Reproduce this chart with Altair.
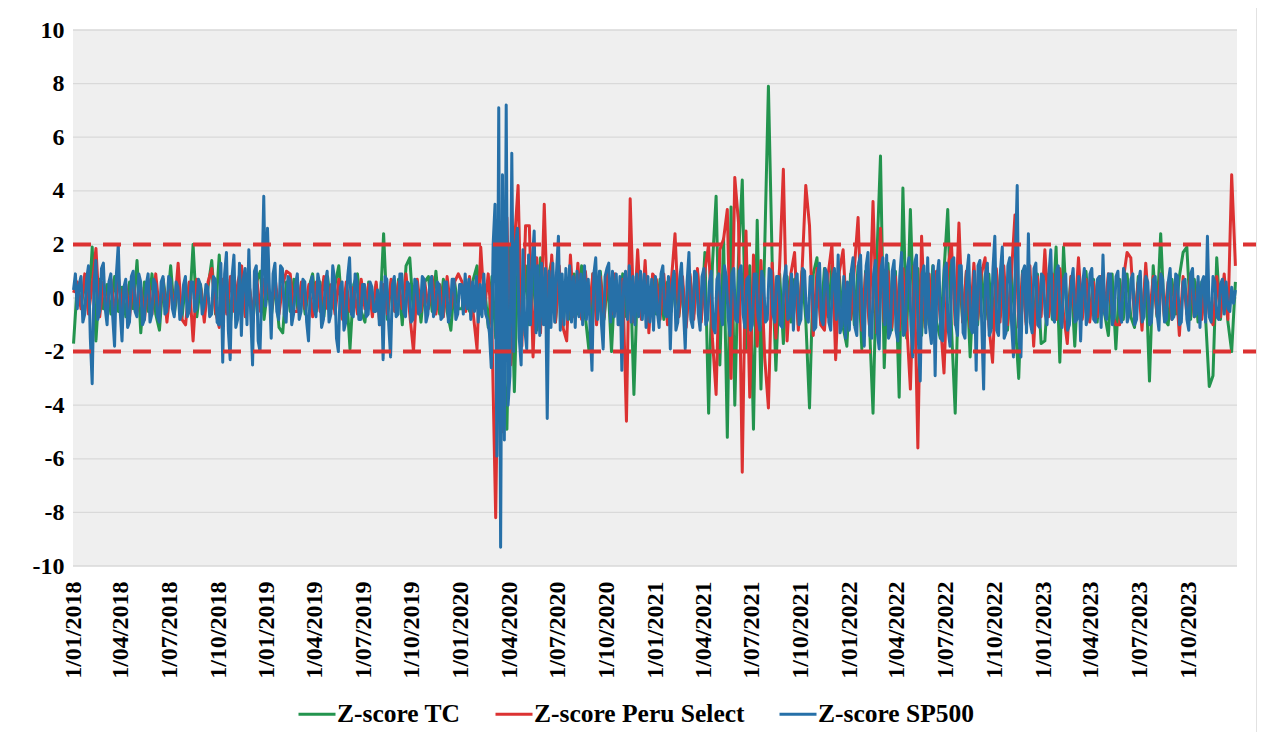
import altair as alt
import pandas as pd

# ---------------- data ----------------
series_names = ["Z-score TC", "Z-score Peru Select", "Z-score SP500"]
series_colors = ["#23944e", "#dc3232", "#2670a8"]

# TC and Peru Select: weekly readings (52 per year)
tc_2018 = [-1.7, 0.5, -0.3, 0.6, -0.5, 1.9, -1.6, 0.7, -0.4, 0.5, -0.6, 0.8, -0.5, 0.4, -0.7, 0.6, -0.4, 1.4, -1.3, 0.6, -0.5, 0.9, -0.6, -1.2, 0.7, -0.4, 1.2, -0.6, 0.5, -0.8, 0.6, -0.5, 2.0, -0.7, 0.5, -0.6, 0.4, 1.4, -0.6, 1.6, -0.8, 0.7, -0.9, 0.6, -0.5, 0.8, -0.7, 0.5, -0.9, 0.6, 1.0, -0.8]
tc_2019 = [0.4, -0.6, 0.5, -1.1, -1.3, 0.6, -0.5, 0.7, -0.4, 0.5, -0.6, 0.4, 0.9, -0.5, 0.6, -0.7, 0.8, -0.4, 0.5, 1.2, -0.6, 0.4, -1.9, 0.5, 0.9, -0.5, -0.9, 0.6, -0.4, 0.5, -0.6, 2.4, -0.8, 0.6, -0.5, 0.7, -1.0, 1.2, 1.5, -0.6, 0.5, -0.9, 0.6, 0.8, -0.5, 1.0, -0.6, 0.7, -0.5, -1.2, 0.6, -0.4]
tc_2020 = [-0.4, 0.6, -0.5, 0.7, 1.2, -0.6, 0.5, -1.1, 0.8, -1.5, 1.8, -2.2, -4.9, 2.0, -3.5, 1.6, -1.4, 1.2, -1.0, 0.9, -1.2, 1.5, -0.8, 0.7, 1.4, -0.9, 0.8, -1.1, 0.6, -0.8, 0.9, -0.6, 1.2, -0.7, -2.0, 0.9, -0.5, 1.0, -0.8, 0.7, -2.0, 0.8, -0.6, 0.9, -0.7, 1.1, -3.6, 0.8, -0.6, 1.0, -0.9, 0.7]
tc_2021 = [-0.6, 0.7, -0.8, 0.6, -0.5, 0.9, -0.7, 0.5, -0.9, 0.8, -0.6, 1.0, -0.8, 1.7, -4.3, 1.2, 3.8, -2.5, 2.2, -5.2, 3.4, -4.0, 1.5, 4.4, -2.0, 1.2, -4.9, 2.9, -3.4, 1.8, 7.9, 1.4, -2.7, 0.9, -1.7, 0.8, -0.9, 0.7, -1.0, 1.0, -0.8, -4.1, 0.9, 1.5, -0.9, 1.1, -0.7, 1.2, -1.0, 0.8, -1.1, -1.8]
tc_2022 = [0.9, -1.0, 1.2, -1.9, 1.0, -0.8, -4.3, 1.4, 5.3, -2.6, 1.3, -1.2, 1.0, -3.7, 4.1, -1.5, 3.3, -1.2, 1.1, -1.4, 0.9, -1.0, 1.2, -0.9, -1.5, 1.0, 3.3, -1.1, -4.3, 1.2, -0.9, 1.0, -2.2, 0.8, -1.0, 1.1, -0.8, 0.9, -1.1, 1.0, -0.7, 0.8, -1.2, 0.9, -0.8, -3.0, 1.0, -0.9, 0.8, -1.1, 0.9, -1.7]
tc_2023 = [-1.6, 0.9, -0.8, 1.9, -2.4, 1.9, -0.9, 0.8, -1.8, 0.9, -0.7, 1.0, -0.8, 0.7, -0.9, 0.8, -0.6, -1.4, 0.9, -1.9, 0.7, -0.8, 0.9, -0.7, -1.1, 0.8, -0.6, 0.9, -3.1, 1.2, -0.7, 2.4, -0.8, -1.0, 0.7, -0.6, 0.8, 1.7, 1.9, -0.8, 0.7, -0.9, 0.6, -0.7, -3.3, -2.9, 1.5, -0.8, 0.7, -0.9, -2.0, 0.6]

peru_2018 = [0.2, 0.6, -0.4, 0.9, -0.6, 0.5, 1.85, -0.7, 0.6, -0.5, 0.7, -0.6, 0.8, -0.4, 0.5, -0.7, 0.6, -0.5, 0.4, -0.8, 0.7, -0.6, 0.9, -0.5, 0.6, -0.9, 0.5, -0.4, 1.3, -0.8, -1.0, 0.6, -1.6, 0.7, 0.4, -0.9, 0.6, 1.1, -0.5, -1.1, 0.7, -0.6, 0.8, -0.5, 0.6, 1.2, -0.7, 0.5, -0.6, 0.8, -0.5, 0.7]
peru_2019 = [0.5, -0.4, 0.7, -0.6, 0.5, 1.0, 0.9, -0.5, -0.5, 0.6, -0.4, 0.5, -0.7, 0.6, -0.5, 0.8, -0.4, 0.5, -0.6, 0.7, -0.8, 0.6, -0.5, 0.4, -0.6, 0.7, -0.4, 0.5, -0.7, 0.6, -1.0, 0.5, -0.6, 0.7, -0.5, 0.6, -0.4, 0.9, -0.6, -2.0, 0.7, -0.5, 0.6, -0.4, 0.8, -0.6, 0.5, -0.7, 0.8, -0.4, 0.6, 0.9]
peru_2020 = [0.6, -0.5, 0.8, -0.6, -1.9, 1.9, -0.4, 0.9, -1.2, -8.2, 2.2, -5.0, 3.0, -2.5, 2.0, 4.2, -1.8, 2.7, 2.7, -2.2, 1.5, -1.3, 3.5, -1.0, 1.6, -0.9, 1.2, -1.1, -1.6, 1.6, -0.7, 1.3, -0.8, 1.0, -0.6, 0.9, -1.0, 0.8, -0.7, 1.1, -0.6, 0.9, -1.0, 0.7, -4.6, 3.7, -0.9, 1.8, -0.8, 1.4, -1.3, 0.9]
peru_2021 = [0.7, -0.8, 0.9, -1.0, 0.6, 2.4, -0.7, 0.8, -1.1, 0.9, -0.8, 1.1, -0.9, 1.0, 2.0, -1.5, -3.6, 1.8, 2.2, 3.3, -3.0, 4.5, 2.8, -6.5, 2.5, -3.7, 1.6, -1.8, 1.4, -2.2, -4.1, 1.3, -1.5, 1.2, 4.8, -1.6, 0.9, 1.7, -1.2, 1.0, 4.2, 2.7, -1.4, 1.1, -1.0, -1.2, 0.9, 2.0, -2.3, 1.0, 1.8, -0.9]
peru_2022 = [-0.8, 1.1, 3.0, -1.2, 0.9, -1.0, 3.6, -1.3, 2.6, -0.9, 1.0, -1.1, 0.8, -1.2, 1.1, -0.9, -3.4, 1.2, -5.6, 2.3, -1.1, 0.9, -1.3, 1.0, -0.8, -2.8, 1.1, 2.0, -1.0, 2.8, -0.9, 1.0, -1.1, 1.3, -0.8, 0.9, 1.5, -1.0, -2.4, 1.1, -0.9, 1.2, -1.0, 0.8, 3.1, -1.1, 0.9, -1.0, 1.2, -1.8, 0.8, -0.7]
peru_2023 = [1.8, -0.7, 0.9, -0.8, 1.1, -0.6, -1.7, 0.8, -0.7, 1.5, -0.8, 0.7, -0.9, 0.6, -0.7, 0.8, -0.5, 0.9, -0.6, -1.0, -1.0, 0.7, 1.7, 1.5, -0.8, 0.6, -1.2, 1.3, -0.7, 0.8, -0.6, 0.9, -0.7, 0.6, -0.8, 0.7, -1.4, 0.8, -0.6, 0.9, -0.7, 0.6, -0.8, 0.7, -0.6, -1.0, 0.8, -0.7, 0.9, -0.8, 4.6, 1.2]

# SP500: half-weekly readings (104 per year)
sp_2018 = [0.3, 0.9, -0.4, 0.5, 0.8, -0.9, -0.6, 0.7, 1.2, -1.5, -3.2, 0.6, 1.4, -0.8, -0.5, 1.1, 1.3, -0.4, -1.0, 0.6, 0.9, -0.7, -1.8, 0.9, 2.0, -0.5, -1.6, 0.4, 0.7, -1.1, -0.9, 0.8, 1.0, -0.5, -0.7, 0.9, 0.6, -1.0, -0.8, 0.5, 0.9, -0.9, -0.6, 0.7, 0.5, -0.7, -0.9, 0.6, 0.8, -0.6, -0.5, 0.8, 0.7, -0.4, -0.7, 0.6, 0.4, -0.8, -0.6, 0.5, 0.8, -0.7, -0.5, 0.6, 0.6, -0.5, -0.4, 0.7, 0.5, -0.6, -0.3, 0.5, 0.4, -0.7, -0.6, 0.8, 0.7, -0.9, -1.0, 1.3, -2.4, 0.9, 1.7, -1.2, -2.3, 0.8, 1.6, -1.1, -0.8, 1.3, -1.4, 0.7, 1.1, -1.0, 1.8, -0.6, -2.5, 1.0, 1.2, -1.6, -2.0, 0.5, 3.8, -0.3]
sp_2019 = [2.6, 0.4, -1.5, 0.9, 1.3, -0.5, -0.8, 1.2, 1.1, -0.6, -0.9, 0.8, 0.7, -1.0, -0.6, 0.5, 0.9, -0.8, -0.5, 0.7, 0.6, -0.9, -1.6, 0.5, 0.8, -0.4, -0.7, 0.9, 0.5, -1.1, -0.8, 0.6, 1.0, -0.9, -0.6, 1.2, 0.7, -1.5, -2.0, 0.4, 0.6, -1.2, -0.9, 0.8, 1.5, -0.6, -0.7, 0.9, 0.6, -0.8, -0.8, 0.5, 0.5, -0.7, -0.6, 0.6, 0.4, -0.5, -0.5, 0.3, -1.0, 0.6, -2.3, 0.8, 0.7, -1.0, -2.2, 0.5, 0.8, -0.7, -0.6, 0.9, 0.9, -0.5, -0.7, 0.6, 0.5, -0.9, -0.8, 0.7, 0.6, -0.6, -0.5, 0.8, 0.7, -0.9, -0.6, 0.5, 0.8, -0.7, -0.4, 0.6, 0.5, -0.8, -0.7, 0.6, 0.6, -0.9, -0.5, 0.7, 0.7, -0.8, -0.6, 0.5]
sp_2020 = [0.5, -0.6, 0.9, -0.4, 0.7, -0.8, 0.6, -0.5, 0.8, -0.9, 0.5, -0.7, 0.9, -0.6, -0.8, -1.3, -2.6, 2.0, 3.5, -5.9, 7.1, -9.3, 4.6, -5.3, 7.2, -4.0, -2.9, 5.4, -2.0, 2.0, 2.6, -1.5, -2.5, 1.8, -1.2, -1.9, 1.6, -1.0, 1.4, 2.5, -1.3, 1.2, -1.4, 1.3, -1.0, 1.1, -4.5, 1.0, -1.1, 1.3, -0.9, 1.0, 2.3, -1.2, 0.9, -1.0, 1.1, -0.8, 1.2, -0.9, 0.8, -1.1, 1.0, -0.7, 0.9, -1.0, 1.2, -0.8, 0.7, -1.1, -2.7, 0.9, 1.5, -0.8, 1.0, -0.9, -1.9, 0.8, 1.1, 1.3, -0.9, 1.0, -0.7, 0.9, -1.0, 0.8, -2.7, 0.6, 1.0, -0.8, 1.2, -0.9, 0.8, -1.0, 0.9, -0.7, 1.0, -0.8, 0.9, -1.1, 0.8, -0.9, 0.7, -1.2]
sp_2021 = [0.8, -0.5, -1.1, 0.9, 1.2, -0.6, -0.7, 0.8, -1.9, 0.5, 1.0, -1.2, -0.9, 0.7, 1.3, -0.4, -1.9, 0.6, 1.7, -0.8, -1.1, 1.0, 0.9, -0.6, -1.2, 0.8, 1.1, -1.0, -0.8, 0.6, 1.0, -1.1, -1.3, 0.7, 0.9, -0.5, -1.0, 1.2, 0.8, -0.7, -1.4, 0.9, 1.1, -0.8, -0.9, 1.0, 1.2, -0.6, -1.1, 0.7, 0.8, -1.2, -1.0, 0.9, 0.9, -0.7, -1.2, 1.0, 0.7, -0.9, -0.8, 1.1, 1.0, -0.6, -0.9, 0.8, 0.8, -1.0, -1.1, 0.7, 1.2, -0.8, -0.7, 0.9, -1.2, 0.6, 0.9, -1.0, -0.8, 1.1, 1.0, -0.7, -0.9, 0.8, 0.8, -1.2, -1.1, 0.9, 1.3, -0.8, -1.0, 1.1, 0.9, -0.9, -1.2, 0.7, 1.1, -0.8, 1.6, -1.3, -1.0, 0.8, -1.5, 0.6]
sp_2022 = [-1.2, 1.0, 1.5, -1.1, -1.4, 1.3, 1.6, -0.9, -1.8, 1.2, 1.7, -1.4, -1.5, 0.9, 1.4, -1.3, -1.9, 1.1, 1.5, -1.0, 1.6, -1.5, -1.3, 1.0, 1.4, -1.2, -1.6, 0.8, 1.7, -1.4, -1.2, 1.1, 1.5, -1.0, -2.2, 1.3, 1.6, -1.6, -3.1, 0.9, 1.2, -1.3, 1.5, -1.1, -1.7, 1.2, -2.9, 0.8, 1.4, -1.5, -1.6, 1.1, 1.3, -1.2, -1.8, 1.4, 1.5, -1.0, -1.4, 1.2, 1.2, -1.3, -1.5, 0.9, 1.6, -1.1, -1.3, 1.0, -2.7, 1.2, 1.4, -1.0, -3.4, 0.9, 1.3, -1.4, -1.2, 1.1, 2.3, -1.2, -1.4, 1.0, 1.9, -1.5, -1.3, 1.2, 1.5, -1.0, -2.2, 1.4, 4.2, -1.6, -2.2, 1.0, 1.2, -1.3, 2.4, -0.9, -1.3, 1.1, 1.3, -1.0, -1.1, 0.9]
sp_2023 = [0.8, -0.6, -1.0, 0.9, 1.8, -0.7, -0.9, 1.0, 1.2, -0.8, -1.1, 0.7, 0.9, -1.2, -1.0, 0.6, 1.1, -0.9, -0.8, 0.8, -1.6, 0.5, 1.1, -1.0, -0.7, 0.9, 1.1, -0.8, -0.9, 0.7, 0.8, -1.1, 1.6, -0.6, -0.8, 0.9, 0.9, -1.0, -0.7, 0.8, 1.0, -0.6, -0.9, 1.1, 0.8, -0.9, -0.6, 0.7, 0.9, -1.0, -0.8, 0.6, 1.0, -0.9, -0.7, 0.8, 0.6, -1.0, -0.9, 0.7, 0.8, -0.6, -1.2, 0.9, 0.7, -0.9, -0.8, 0.6, 1.1, -0.8, -0.7, 0.9, 0.8, -1.0, -0.9, 0.6, 0.7, -0.8, -1.2, 0.9, 1.1, -0.7, -0.6, 0.8, -1.1, 0.6, 0.8, -0.9, 2.3, -0.7, -0.9, 0.8, 0.6, -0.7, -0.8, 0.5, 0.7, -0.6, 0.6, -0.4, -0.5, 0.4, -0.2, 0.3]

band_levels = [2, -2]
y_tick_values = [-10, -8, -6, -4, -2, 0, 2, 4, 6, 8, 10]
x_tick_years = [2018, 2019, 2020, 2021, 2022, 2023]
x_tick_months = [1, 4, 7, 10]

# ---------------- build tables ----------------
tc = tc_2018 + tc_2019 + tc_2020 + tc_2021 + tc_2022 + tc_2023
peru = peru_2018 + peru_2019 + peru_2020 + peru_2021 + peru_2022 + peru_2023
sp = sp_2018 + sp_2019 + sp_2020 + sp_2021 + sp_2022 + sp_2023


def frame(vals, name):
    d = pd.date_range("2018-01-02", "2023-12-29", periods=len(vals)).strftime("%Y-%m-%dT%H:%M:%S")
    return pd.DataFrame({"date": d, "z": vals, "series": name})


FONT = "Liberation Serif"
x0, x1 = "2018-01-01T00:00:00", "2024-01-01T00:00:00"
x_dom = alt.Scale(domain=[alt.DateTime(year=2018, month=1, date=1),
                          alt.DateTime(year=2024, month=1, date=1)])
y_dom = alt.Scale(domain=[-10, 10], nice=False)
tick_dates = [alt.DateTime(year=y, month=m, date=1) for y in x_tick_years for m in x_tick_months]

x_axis = alt.Axis(values=tick_dates, format="%-d/%m/%Y", labelAngle=270, labelFont=FONT,
                  labelFontSize=24, labelFontWeight="bold", labelColor="black", ticks=False,
                  domain=False, grid=False, labelPadding=15, labelOverlap=False, title=None)
y_axis = alt.Axis(values=y_tick_values, labelExpr="'' + datum.value", labelFont=FONT,
                  labelFontSize=24, labelFontWeight="bold", labelColor="black", ticks=False,
                  domain=False, grid=False, labelPadding=9, title=None)

W, H = 1164, 536

# plot-area background (light grey, standing in for the hatch texture)
bg_df = pd.DataFrame({"xs": [x0], "xe": [x1], "ys": [-10], "ye": [10]})
bg = alt.Chart(bg_df).mark_rect(color="#efefef").encode(
    x=alt.X("xs:T", scale=x_dom, axis=x_axis), x2="xe:T",
    y=alt.Y("ys:Q", scale=y_dom, axis=y_axis), y2="ye:Q")

grid_df = pd.DataFrame({"xs": [x0] * len(y_tick_values), "xe": [x1] * len(y_tick_values), "y": y_tick_values})
grid = alt.Chart(grid_df).mark_rule(color="#d9d9d9", strokeWidth=1.3).encode(
    x="xs:T", x2="xe:T", y="y:Q")

color = alt.Color("series:N", scale=alt.Scale(domain=series_names, range=series_colors),
                  legend=alt.Legend(orient="none", legendX=224, legendY=664, direction="horizontal",
                                    title=None, symbolType="stroke", symbolSize=1369,
                                    symbolStrokeWidth=3, labelFont=FONT, labelFontSize=25.5,
                                    labelFontWeight="bold", labelColor="black", columnPadding=28,
                                    padding=0, labelOffset=0, labelLimit=0))

lines = [alt.Chart(frame(v, nm)).mark_line(strokeWidth=3, strokeJoin="round").encode(
    x="date:T", y="z:Q", color=color)
    for v, nm in [(tc, series_names[0]), (peru, series_names[1]), (sp, series_names[2])]]

band_df = pd.DataFrame({"xs": [x0] * 2, "xe": ["2024-02-06T00:00:00"] * 2, "y": band_levels})
bands = alt.Chart(band_df).mark_rule(color="#dc3232", strokeWidth=4, strokeDash=[18, 12]).encode(
    x="xs:T", x2="xe:T", y="y:Q")

border = alt.Chart(bg_df).mark_rect(fill="transparent", stroke="#d9d9d9", strokeWidth=1.5).encode(
    x=alt.value(-66), x2=alt.value(1184), y=alt.value(-23), y2=alt.value(720))

chart = alt.layer(bg, grid, *lines, bands, border).properties(
    width=W, height=H,
    padding={"left": 65, "top": 22, "right": 20, "bottom": 166},
    autosize=alt.AutoSizeParams(type="none"),
    background="white",
).configure_view(strokeWidth=0)

chart.save("out.html", embed_options={"renderer": "svg", "actions": False})
